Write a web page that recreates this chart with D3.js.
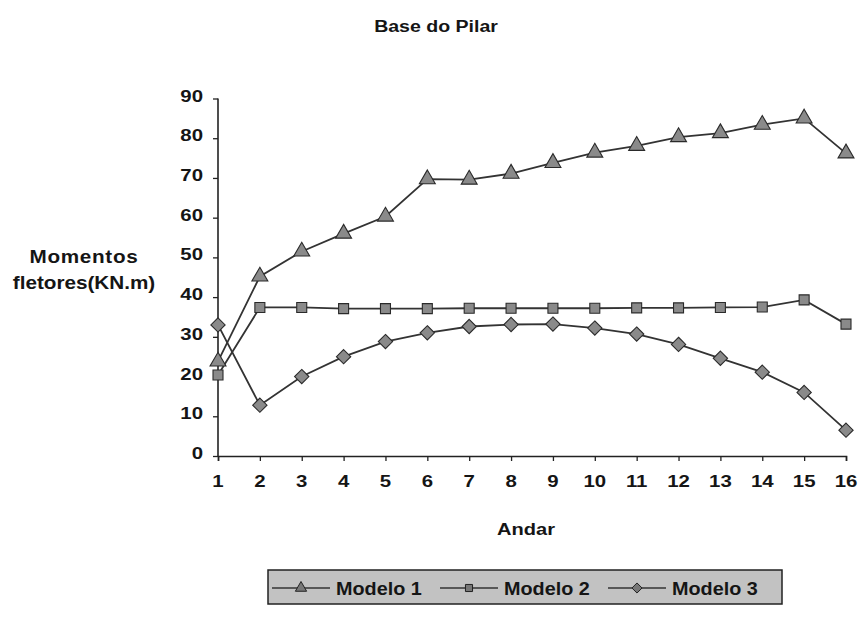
<!DOCTYPE html>
<html>
<head>
<meta charset="utf-8">
<script src="https://cdn.jsdelivr.net/npm/d3@7/dist/d3.min.js"></script>
<style>
  html, body { margin: 0; padding: 0; background: #fff; }
  svg text { font-family: "Liberation Sans", Arial, sans-serif; font-weight: bold; fill: #151515; }
</style>
</head>
<body>
<svg id="chart" width="859" height="617"></svg>
<script>
// Floors (andares) and bending moments at the column base, per model
const andares = [1, 2, 3, 4, 5, 6, 7, 8, 9, 10, 11, 12, 13, 14, 15, 16];
const modelo1 = [23.8, 45.2, 51.5, 56.0, 60.3, 69.7, 69.6, 71.1, 73.8, 76.4, 78.1, 80.3, 81.3, 83.4, 85.0, 76.2];
const modelo2 = [20.4, 37.4, 37.4, 37.1, 37.1, 37.1, 37.2, 37.2, 37.2, 37.2, 37.3, 37.3, 37.4, 37.5, 39.3, 33.2];
const modelo3 = [33.0, 12.8, 20.0, 25.0, 28.8, 31.0, 32.6, 33.1, 33.2, 32.2, 30.7, 28.1, 24.6, 21.1, 16.0, 6.5];
const yTicks = [0, 10, 20, 30, 40, 50, 60, 70, 80, 90];
const seriesNames = ["Modelo 1", "Modelo 2", "Modelo 3"];

const svg = d3.select("#chart");
const x = d3.scaleLinear().domain([1, 16]).range([218, 846]);
const y = d3.scaleLinear().domain([0, 90]).range([456, 98.5]);

// Text drawn with a slight horizontal stretch (wide bold face)
function wideText(g, tx, ty, str, size, sx, anchor) {
  return g.append("text")
    .attr("transform", `translate(${tx},${ty}) scale(${sx},1)`)
    .attr("text-anchor", anchor || "middle")
    .style("font-size", size + "px")
    .text(str);
}

// Title and axis titles
wideText(svg, 436, 32, "Base do Pilar", 17, 1.15);
wideText(svg, 84, 263, "Momentos", 18, 1.15).style("letter-spacing", "0.6px");
wideText(svg, 84, 289, "fletores(KN.m)", 18, 1.15);
wideText(svg, 526, 535, "Andar", 17, 1.18);

// Axes (labels drawn separately below)
const yAxis = d3.axisLeft(y).tickValues(yTicks).tickSize(5).tickFormat(() => "");
const gy = svg.append("g").attr("transform", "translate(218,0)").call(yAxis);
const xAxis = d3.axisBottom(x).tickValues(andares).tickSize(5).tickFormat(() => "");
const gx = svg.append("g").attr("transform", "translate(0,456)").call(xAxis);
[gy, gx].forEach(g => {
  g.select(".domain").attr("stroke", "#222").attr("stroke-width", 1.6);
  g.selectAll(".tick line").attr("stroke", "#222").attr("stroke-width", 1.3);
});
gy.select(".domain").attr("d", "M0,456V98.5");

// Tick labels, placed from the same scales
const tickLabels = svg.append("g");
yTicks.forEach(v => wideText(tickLabels, 203, y(v) + 3, String(v), 17, 1.2, "end"));
andares.forEach(v => wideText(tickLabels, x(v), 487, String(v), 17, 1.2, "middle"));

// Marker shapes: triangle, square, diamond (square turned 45°)
const shapes = [d3.symbolTriangle, d3.symbolSquare, d3.symbolDiamond2 || d3.symbolDiamond];
const sizes = [110, 100, 130];
const data = [modelo1, modelo2, modelo3];

const line = d3.line().x((d, i) => x(andares[i])).y(d => y(d));

data.forEach(vals => {
  svg.append("path").datum(vals).attr("d", line)
    .attr("fill", "none").attr("stroke", "#333").attr("stroke-width", 1.8);
});
data.forEach((vals, si) => {
  svg.append("g").selectAll("path").data(vals).join("path")
    .attr("transform", (d, i) => `translate(${x(andares[i])},${y(d)})`)
    .attr("d", d3.symbol().type(shapes[si]).size(sizes[si]))
    .attr("fill", "#8a8a8a").attr("stroke", "#2a2a2a").attr("stroke-width", 1.1);
});

// Legend
const legend = svg.append("g");
legend.append("rect").attr("x", 268).attr("y", 570).attr("width", 514).attr("height", 34)
  .attr("fill", "#c2c2c2").attr("stroke", "#222").attr("stroke-width", 1.5);
const legendX = [272, 440, 608];
seriesNames.forEach((name, si) => {
  const lx = legendX[si];
  legend.append("line").attr("x1", lx).attr("x2", lx + 58).attr("y1", 588).attr("y2", 588)
    .attr("stroke", "#333").attr("stroke-width", 1.6);
  legend.append("path").attr("transform", `translate(${lx + 29},588)`)
    .attr("d", d3.symbol().type(shapes[si]).size(sizes[si] * 0.5))
    .attr("fill", "#777").attr("stroke", "#222").attr("stroke-width", 1);
  wideText(legend, lx + 64, 595, name, 18, 1.1, "start");
});
</script>
</body>
</html>
